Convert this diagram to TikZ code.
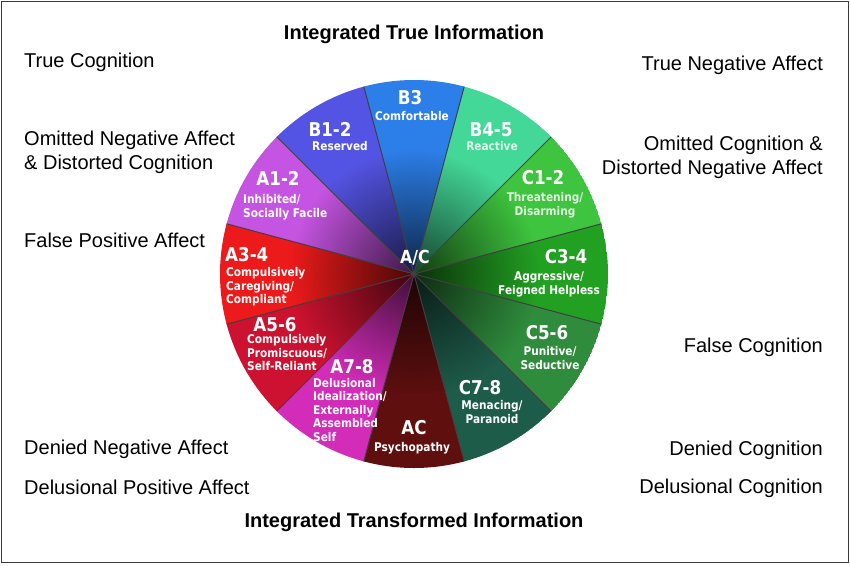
\documentclass[tikz,border=0pt]{standalone}
\usepackage{fontspec}
\setmainfont{Liberation Sans}
\newfontfamily\wheelfont[FakeStretch=0.88]{DejaVu Sans}
\usetikzlibrary{positioning}
\definecolor{secBa}{HTML}{5454E4}
\definecolor{secBb}{HTML}{2C7EE8}
\definecolor{secBc}{HTML}{44D898}
\definecolor{secCa}{HTML}{3EC43E}
\definecolor{secCb}{HTML}{22A022}
\definecolor{secCc}{HTML}{2F8C3C}
\definecolor{secCd}{HTML}{1E5C4A}
\definecolor{secAC}{HTML}{600F0F}
\definecolor{secAd}{HTML}{D22CB8}
\definecolor{secAc}{HTML}{CC1230}
\definecolor{secAb}{HTML}{EC1A1A}
\definecolor{secAa}{HTML}{C654E2}
\definecolor{framec}{HTML}{3A3A3A}

\tikzset{
  code/.style={text=white, inner sep=0pt, font=\wheelfont\bfseries\fontsize{19}{19}\selectfont},
  blurb/.style={text=white, inner sep=0pt, align=center, font=\wheelfont\bfseries\fontsize{12}{13.5}\selectfont},
  side/.style={inner sep=0pt, font=\fontsize{20}{24}\selectfont},
  heading/.style={inner sep=0pt, font=\bfseries\fontsize{20}{22}\selectfont},
  spoke/.style={line width=1pt, black!75}
}

\begin{document}
\begin{tikzpicture}[x=1pt, y=-1pt]
  \useasboundingbox (0,0) rectangle (850,565);
  \fill[white] (0,0) rectangle (850,565);
  \draw[framec, line width=1.6pt] (1.5,1.5) rectangle (848.5,562.5);
  \coordinate (hub) at (414,274);
  % the twelve sectors, darker towards the middle
  \foreach \ang/\col in {-90/secBb, -60/secBc, -30/secCa, 0/secCb, 30/secCc, 60/secCd,
                         90/secAC, 120/secAd, 150/secAc, 180/secAb, 210/secAa, 240/secBa} {
    \begin{scope}
      \clip (hub) -- ++({\ang-15}:194) arc[start angle=\ang-15, end angle=\ang+15, radius=194] -- cycle;
      \fill[\col] (hub) circle (194);
      \shade[inner color=\col!30!black, outer color=\col] (hub) circle (125);
    \end{scope}
  }
  % borders between sectors
  \foreach \b in {-75,-45,...,255} \draw[spoke] (hub) -- ++(\b:194);
  \node[text=white, inner sep=0pt, font=\wheelfont\bfseries\fontsize{18}{18}\selectfont] (ac) at (415,258) {A/C};
  % sector labels
  \node[code] (b3) at (410,98) {B3};
  \node[blurb] (b3t) at (412,116) {Comfortable};
  \node[code] (b12) at (330,129) {B1-2};
  \node[blurb] (b12t) at (340,146) {Reserved};
  \node[code] (b45) at (491,130) {B4-5};
  \node[blurb, text=white!80!secBc] (b45t) at (492,146) {Reactive};
  \node[code] (c12) at (543,178) {C1-2};
  \node[blurb, text=white!85!secCa] (c12t) at (545,205) {Threatening/\\Disarming};
  \node[code] (c34) at (566,257) {C3-4};
  \node[blurb] (c34t) at (549,284) {Aggressive/\\Feigned Helpless};
  \node[code] (c56) at (547,333) {C5-6};
  \node[blurb] (c56t) at (550,358) {Punitive/\\Seductive};
  \node[code] (c78) at (480,388) {C7-8};
  \node[blurb] (c78t) at (492,412) {Menacing/\\Paranoid};
  \node[code] (acs) at (414,428) {AC};
  \node[blurb] (acst) at (412,448) {Psychopathy};
  \node[code] (a78) at (352,367) {A7-8};
  \node[blurb, align=left, anchor=west] (a78t) at (313,410) {Delusional\\Idealization/\\Externally\\Assembled\\Self};
  \node[code] (a56) at (275,325) {A5-6};
  \node[blurb, align=left, anchor=west] (a56t) at (247,353) {Compulsively\\Promiscuous/\\Self-Reliant};
  \node[code, anchor=west] (a34) at (225,255) {A3-4};
  \node[blurb, align=left, anchor=west] (a34t) at (226,287) {Compulsively\\Caregiving/\\Compliant};
  \node[code] (a12) at (278,178) {A1-2};
  \node[blurb, align=left, anchor=west] (a12t) at (243,207) {Inhibited/\\Socially Facile};
  % outside labels
  \node[heading] (top) at (414,34) {Integrated True Information};
  \node[heading] (bot) at (414,522) {Integrated Transformed Information};
  \node[side, anchor=west] (l1) at (24,62) {True Cognition};
  \node[side, anchor=west, align=left] (l2) at (24,152) {Omitted Negative Affect\\\& Distorted Cognition};
  \node[side, anchor=west] (l3) at (24,240) {False Positive Affect};
  \node[side, anchor=west] (l4) at (24,449) {Denied Negative Affect};
  \node[side, anchor=west] (l5) at (24,487) {Delusional Positive Affect};
  \node[side, anchor=east] (r1) at (823,65) {True Negative Affect};
  \node[side, anchor=east, align=right] (r2) at (823,157) {Omitted Cognition \&\\Distorted Negative Affect};
  \node[side, anchor=east] (r3) at (823,347) {False Cognition};
  \node[side, anchor=east] (r4) at (823,450) {Denied Cognition};
  \node[side, anchor=east] (r5) at (823,488) {Delusional Cognition};
\end{tikzpicture}
\end{document}
